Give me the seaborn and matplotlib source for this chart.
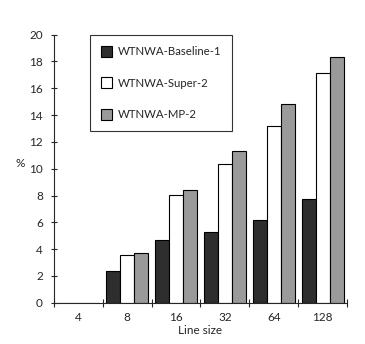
import matplotlib
matplotlib.use("Agg")
import matplotlib.pyplot as plt
import seaborn as sns
import pandas as pd
import numpy as np

line_sizes = ["4", "8", "16", "32", "64", "128"]
series_names = ["WTNWA-Baseline-1", "WTNWA-Super-2", "WTNWA-MP-2"]
baseline = [0.0, 2.37, 4.70, 5.30, 6.15, 7.72]
super2 = [0.0, 3.54, 8.04, 10.37, 13.21, 17.14]
mp2 = [0.0, 3.73, 8.39, 11.34, 14.85, 18.31]
y_ticks = [0, 2, 4, 6, 8, 10, 12, 14, 16, 18, 20]

rows = []
for name, vals in zip(series_names, [baseline, super2, mp2]):
    for ls, v in zip(line_sizes, vals):
        rows.append({"Line size": ls, "value": v, "series": name})
df = pd.DataFrame(rows)

sns.set_style("ticks")
plt.rcParams['font.family'] = ['Lato', 'DejaVu Sans']

fig = plt.figure(figsize=(3.65, 3.44), dpi=100)
ax = fig.add_axes([54/365, 1-302.7/344, 293/365, 268/344])

palette = {"WTNWA-Baseline-1": "#2e2e2e", "WTNWA-Super-2": "#ffffff", "WTNWA-MP-2": "#9a9a9a"}
sns.barplot(data=df, x="Line size", y="value", hue="series", order=line_sizes,
            hue_order=series_names, palette=palette, width=0.86,
            edgecolor="black", linewidth=0.8, saturation=1, ax=ax)

ax.set_ylim(0, 20)
ax.set_xlim(-0.5, 5.5)
ax.set_yticks(y_ticks)
ax.set_yticklabels([str(t) for t in y_ticks], fontsize=8.5)
ax.tick_params(axis='y', direction='inout', length=4, width=0.8, pad=6)
ax.set_xticks(range(len(line_sizes)))
ax.set_xticklabels(line_sizes, fontsize=8.5)
ax.tick_params(axis='x', which='major', length=0, pad=7)
ax.set_xticks(np.arange(-0.5, 5.6, 1.0), minor=True)
ax.tick_params(axis='x', which='minor', direction='inout', length=6, width=0.8)
ax.set_xlabel("Line size", fontsize=8.5, labelpad=1)
ax.set_ylabel("%", fontsize=8.5, rotation=0, labelpad=12)
ax.yaxis.set_label_coords(-0.115, 0.5)
sns.despine(ax=ax)
for s in ["left", "bottom"]:
    ax.spines[s].set_linewidth(0.8)

leg = ax.legend(loc="upper left", bbox_to_anchor=(0.123, 1.0), borderaxespad=0,
                fontsize=8.2, frameon=True, fancybox=False, edgecolor="black",
                labelspacing=1.75, handlelength=0.9, handleheight=1.1,
                handletextpad=0.5, borderpad=1.0)
leg.get_frame().set_linewidth(0.8)
leg.set_title(None)

fig.savefig("out.png", dpi=100, facecolor="white")
